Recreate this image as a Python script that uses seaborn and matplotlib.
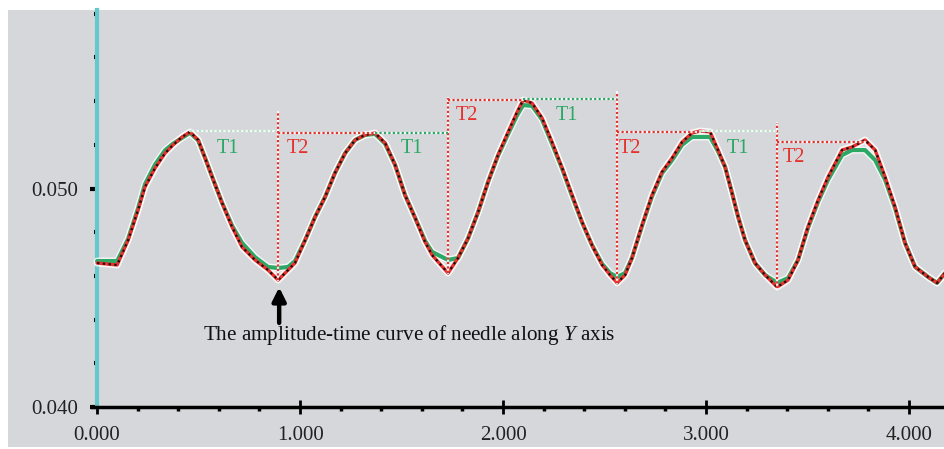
import numpy as np
import pandas as pd
import matplotlib
matplotlib.use("Agg")
import matplotlib.pyplot as plt
import seaborn as sns
from matplotlib.patches import Rectangle
from matplotlib.ticker import MultipleLocator, FixedLocator, FixedFormatter

# ---------------- data ----------------
time = [0.000, 0.099, 0.153, 0.202, 0.236, 0.286, 0.335, 0.374, 0.419, 0.458,
        0.498, 0.532, 0.567, 0.616, 0.665, 0.714, 0.778, 0.842, 0.892, 0.941,
        0.975, 1.025, 1.074, 1.123, 1.172, 1.222, 1.271, 1.320, 1.369, 1.419,
        1.468, 1.517, 1.567, 1.616, 1.650, 1.680, 1.729, 1.778, 1.828, 1.877,
        1.926, 1.975, 2.025, 2.069, 2.099, 2.143, 2.192, 2.241, 2.291, 2.340,
        2.389, 2.438, 2.488, 2.527, 2.562, 2.601, 2.635, 2.685, 2.734, 2.783,
        2.833, 2.882, 2.931, 2.970, 3.020, 3.059, 3.094, 3.128, 3.158, 3.192,
        3.241, 3.291, 3.350, 3.404, 3.453, 3.502, 3.552, 3.601, 3.670, 3.719,
        3.783, 3.833, 3.882, 3.931, 3.980, 4.030, 4.094, 4.138, 4.177]

red_y = [0.04659, 0.04650, 0.04764, 0.04902, 0.05007, 0.05094, 0.05162, 0.05199, 0.05236, 0.05259,
         0.05222, 0.05140, 0.05053, 0.04934, 0.04824, 0.04732, 0.04673, 0.04627, 0.04581, 0.04627,
         0.04659, 0.04764, 0.04870, 0.04961, 0.05071, 0.05162, 0.05222, 0.05245, 0.05254, 0.05208,
         0.05108, 0.04970, 0.04865, 0.04755, 0.04696, 0.04664, 0.04613, 0.04682, 0.04773, 0.04892,
         0.05030, 0.05153, 0.05259, 0.05350, 0.05405, 0.05391, 0.05323, 0.05213, 0.05094, 0.04970,
         0.04847, 0.04741, 0.04650, 0.04604, 0.04568, 0.04604, 0.04682, 0.04833, 0.04970, 0.05076,
         0.05140, 0.05213, 0.05254, 0.05263, 0.05259, 0.05176, 0.05098, 0.04979, 0.04870, 0.04764,
         0.04659, 0.04604, 0.04549, 0.04581, 0.04673, 0.04824, 0.04947, 0.05053, 0.05176, 0.05190,
         0.05222, 0.05176, 0.05053, 0.04915, 0.04751, 0.04641, 0.04595, 0.04568, 0.04613]

green_y = [0.04668, 0.04668, 0.04770, 0.04910, 0.05020, 0.05110, 0.05175, 0.05205, 0.05232, 0.05255,
           0.05220, 0.05140, 0.05053, 0.04934, 0.04830, 0.04751, 0.04686, 0.04641, 0.04636, 0.04641,
           0.04668, 0.04764, 0.04870, 0.04961, 0.05071, 0.05162, 0.05222, 0.05245, 0.05250, 0.05205,
           0.05108, 0.04970, 0.04865, 0.04760, 0.04710, 0.04696, 0.04673, 0.04682, 0.04773, 0.04892,
           0.05030, 0.05150, 0.05250, 0.05335, 0.05382, 0.05378, 0.05315, 0.05205, 0.05090, 0.04965,
           0.04845, 0.04741, 0.04655, 0.04613, 0.04595, 0.04613, 0.04682, 0.04830, 0.04965, 0.05070,
           0.05130, 0.05200, 0.05236, 0.05236, 0.05236, 0.05170, 0.05098, 0.04979, 0.04870, 0.04764,
           0.04659, 0.04604, 0.04568, 0.04590, 0.04673, 0.04820, 0.04940, 0.05040, 0.05153, 0.05176,
           0.05176, 0.05130, 0.05040, 0.04910, 0.04751, 0.04641, 0.04595, 0.04568, 0.04613]

x_major = [0, 1, 2, 3, 4]
x_labels = ["0.000", "1.000", "2.000", "3.000", "4.000"]
y_major = [0.040, 0.050]
y_labels = ["0.040", "0.050"]

# period markers: vertical red lines (time, top, bottom)
v_marks_t = [0.892, 1.729, 2.562, 3.350]
v_marks_top = [0.05350, 0.05414, 0.05442, 0.05300]
v_marks_bot = [0.04581, 0.04613, 0.04568, 0.04545]
# horizontal markers (t_start, t_end, level, colour key)
h_t0 = [0.458, 0.892, 1.369, 1.729, 2.099, 2.562, 2.970, 3.350]
h_t1 = [0.892, 1.369, 1.729, 2.099, 2.562, 2.970, 3.350, 3.783]
h_lvl = [0.05263, 0.05254, 0.05254, 0.05405, 0.05410, 0.05259, 0.05263, 0.05213]
h_kind = ["w", "r", "g", "r", "g", "r", "w", "r"]
# labels
lab_text = ["T1", "T2", "T1", "T2", "T1", "T2", "T1", "T2"]
lab_t = [0.645, 0.990, 1.552, 1.823, 2.315, 2.626, 3.158, 3.433]
lab_v = [0.05185, 0.05185, 0.05185, 0.05336, 0.05336, 0.05181, 0.05185, 0.05140]

# ---------------- style ----------------
sns.set_style("white")
plt.rcParams['font.family'] = ['Liberation Serif', 'DejaVu Serif']
plt.rcParams['mathtext.fontset'] = 'custom'
plt.rcParams['mathtext.rm'] = 'Liberation Serif'
plt.rcParams['mathtext.it'] = 'Liberation Serif:italic'

BG = '#d6d7db'
RED = '#e5322d'
GREEN = '#2ba865'
CYAN = '#63c9cc'

W, H = 945, 449
fig = plt.figure(figsize=(W / 100, H / 100), dpi=100)
fig.patch.set_facecolor('white')
fig.patches.append(Rectangle((8 / W, 2 / H), 1 - 8 / W, (447 - 10) / H,
                             transform=fig.transFigure, facecolor=BG,
                             edgecolor='none', zorder=-10))

ax = fig.add_axes([92 / W, (H - 407) / H, 853 / W, 397 / H])
ax.set_facecolor(BG)
ax.set_xlim(-0.025, 4.177)
ax.set_ylim(0.040, 0.05817)

df = pd.DataFrame({"t": time, "red": red_y, "green": green_y})

# white halos
for col in ["green", "red"]:
    sns.lineplot(data=df, x="t", y=col, ax=ax, sort=False, color='white',
                 lw=5, alpha=0.8, zorder=3, estimator=None)
sns.lineplot(data=df, x="t", y="green", ax=ax, sort=False, color=GREEN,
             lw=3, zorder=4, estimator=None)
sns.lineplot(data=df, x="t", y="red", ax=ax, sort=False, color=RED,
             lw=2.4, zorder=5, estimator=None)
sns.lineplot(data=df, x="t", y="red", ax=ax, sort=False, color='#1a0a0a',
             lw=1.6, zorder=6, estimator=None, linestyle=(0, (1, 1.6)))

# period markers
dot = (0, (1, 1))
for t, top, bot in zip(v_marks_t, v_marks_top, v_marks_bot):
    ax.plot([t, t], [bot, top], color='white', lw=1.6, alpha=0.9, zorder=7)
    ax.plot([t, t], [bot, top], color=RED, lw=1.6, ls=dot, zorder=8)
for t0, t1, lv, k in zip(h_t0, h_t1, h_lvl, h_kind):
    ax.plot([t0, t1], [lv, lv], color='white', lw=1.6, alpha=0.9, zorder=7)
    c = {"r": RED, "g": GREEN, "w": '#b9e0c8'}[k]
    ax.plot([t0, t1], [lv, lv], color=c, lw=1.6, ls=dot, zorder=8)
for s, t, v in zip(lab_text, lab_t, lab_v):
    ax.text(t, v, s, color=GREEN if s == "T1" else RED, fontsize=14.5,
            ha='center', va='center', zorder=9)

# arrow + caption
ax.annotate("", xy=(0.897, 0.04548), xytext=(0.897, 0.04385),
            arrowprops=dict(arrowstyle='-|>,head_length=0.8,head_width=0.4',
                            color='black', lw=3.2, shrinkA=0, shrinkB=0),
            zorder=9)
ax.text(1.540, 0.04330, "The amplitude-time curve of needle along $\\mathit{Y}$ axis",
        fontsize=15.2, ha='center', va='center', color='#111111', zorder=9)

# spines
for s in ['top', 'right']:
    ax.spines[s].set_visible(False)
ax.spines['left'].set_position(('data', 0))
ax.spines['left'].set_color(CYAN)
ax.spines['left'].set_linewidth(3)
ax.spines['left'].set_zorder(2)
ax.spines['bottom'].set_color('black')
ax.spines['bottom'].set_linewidth(2.5)

ax.xaxis.set_major_locator(FixedLocator(x_major))
ax.xaxis.set_major_formatter(FixedFormatter(x_labels))
ax.xaxis.set_minor_locator(MultipleLocator(0.2))
ax.yaxis.set_major_locator(FixedLocator(y_major))
ax.yaxis.set_major_formatter(FixedFormatter(y_labels))
ax.yaxis.set_minor_locator(MultipleLocator(0.002))

ax.tick_params(which='both', bottom=True, left=True, top=False, right=False)
ax.tick_params(axis='x', which='major', direction='inout', length=10, width=2,
               color='black', labelsize=15, pad=9, labelcolor='#222222')
ax.tick_params(axis='x', which='minor', direction='out', length=3, width=2.5,
               color='black')
ax.tick_params(axis='y', which='major', direction='out', length=5, width=3,
               color='black', labelsize=15, pad=9, labelcolor='#222222')
ax.tick_params(axis='y', which='minor', direction='out', length=2.5, width=3,
               color='black')
ax.set_xlabel("")
ax.set_ylabel("")
for t in ax.xaxis.get_ticklines(minor=True) + ax.yaxis.get_ticklines(minor=True):
    t.set_clip_on(False)

fig.savefig("out.png", dpi=100, facecolor=fig.get_facecolor())
